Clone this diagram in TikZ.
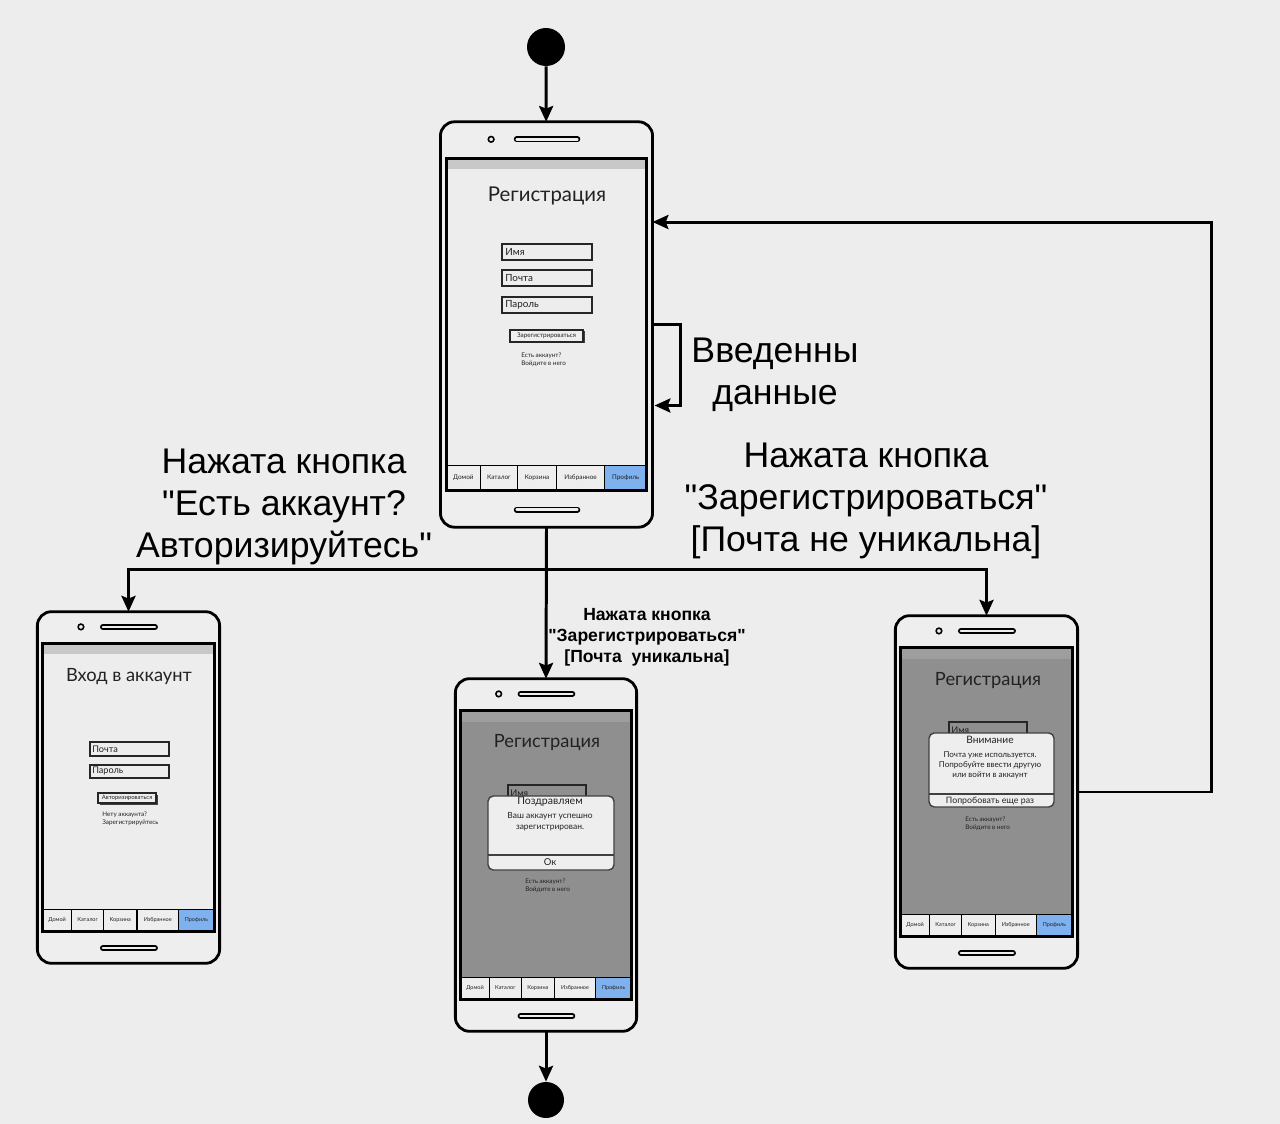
\documentclass[tikz,border=0pt]{standalone}
\usepackage{fontspec}
\setmainfont{Liberation Sans}
\newfontfamily\uifont{Lato}
\usetikzlibrary{arrows.meta}

\definecolor{bgcol}{HTML}{EDEDED}
\definecolor{phonebg}{HTML}{EEEEEE}
\definecolor{screenlight}{HTML}{EDEDED}
\definecolor{screendim}{HTML}{8F8F8F}
\definecolor{statuslight}{HTML}{C8C8C8}
\definecolor{statusdim}{HTML}{9E9E9E}
\definecolor{tabblue}{HTML}{7EB1EE}
\definecolor{uitext}{HTML}{222222}

\tikzset{
  phone/.style={draw, line width=1.6pt, rounded corners=8pt, fill=phonebg, inner sep=0pt, outer sep=0pt},
  flow/.style={line width=1.7pt, -{Stealth[length=9pt,width=8pt,inset=1.5pt]}},
  dot/.style={circle, fill=black, inner sep=0pt, minimum size=#1},
  biglabel/.style={align=center, font=\fontsize{20.3}{23.8}\selectfont},
  smalllabel/.style={align=center, font=\bfseries\fontsize{10}{11.9}\selectfont},
  tabcell/.style={draw, line width=0.7pt, fill=phonebg},
  speakerout/.style={line width=3.3pt, line cap=round},
  speakerin/.style={line width=1.5pt, line cap=round, draw=phonebg},
  uititle/.style={text=uitext, font=\uifont\fontsize{#1}{#1}\selectfont},
  uitext/.style={text=uitext, inner sep=0pt, font=\uifont\fontsize{#1}{#1}\selectfont},
  tabtext/.style={uitext=#1, text height=0.72*#1 pt, text depth=0.22*#1 pt},
  tinytext/.style={text=uitext, inner sep=0pt, align=left, font=\uifont\fontsize{3.6}{4.6}\selectfont},
  field/.style={draw=black!85, line width=0.8pt},
  dialog/.style={draw=black!75, line width=0.8pt, fill=phonebg, rounded corners=3pt},
}

% straight quotes
\newcommand{\qt}{\textquotedbl}

% phone body: name, left, top, right, bottom, screen colour, status bar colour
\newcommand{\phoneframe}[7]{%
  \pgfmathsetmacro{\phW}{#4-#2}
  \pgfmathsetmacro{\phH}{#5-#3}
  \pgfmathsetmacro{\scL}{#2+0.03*\phW}
  \pgfmathsetmacro{\scR}{#4-0.03*\phW}
  \pgfmathsetmacro{\scT}{#3+0.092*\phH}
  \pgfmathsetmacro{\scB}{#5-0.092*\phH}
  \pgfmathsetmacro{\tabT}{\scB-0.062*\phH}
  \pgfmathsetmacro{\camY}{#3+0.045*\phH}
  \pgfmathsetmacro{\spkY}{#5-0.045*\phH}
  \pgfmathsetmacro{\tabfs}{\phW*0.0172}
  \node[phone, minimum width=\phW*0.5669pt, minimum height=\phH*0.5669pt] (#1) at ({(#2+#4)/2},{(#3+#5)/2}) {};
  \fill[#6] (\scL,\scT) rectangle (\scR,\tabT);
  \fill[#7] (\scL,\scT) rectangle (\scR,\scT+11);
  % tab bar
  \foreach \a/\b/\lab in {0/0.17/Домой, 0.17/0.355/Каталог, 0.355/0.55/Корзина, 0.55/0.79/Избранное} {
    \draw[tabcell] ({\scL+\a*(\scR-\scL)},\tabT) rectangle ({\scL+\b*(\scR-\scL)},\scB);
    \node[tabtext=\tabfs] at ({\scL+(\a+\b)/2*(\scR-\scL)},{(\tabT+\scB)/2}) {\lab};
  }
  \draw[tabcell, fill=tabblue] ({\scL+0.79*(\scR-\scL)},\tabT) rectangle (\scR,\scB);
  \node[tabtext=\tabfs] at ({\scL+0.895*(\scR-\scL)},{(\tabT+\scB)/2}) {Профиль};
  \draw[line width=1.6pt] (\scL,\scT) rectangle (\scR,\scB);
  % camera and speakers
  \draw[line width=0.9pt] ({#2+0.24*\phW},\camY) circle (1.6pt);
  \draw[speakerout] ({#2+0.36*\phW},\camY) -- ({#2+0.645*\phW},\camY);
  \draw[speakerin] ({#2+0.36*\phW},\camY) -- ({#2+0.645*\phW},\camY);
  \draw[speakerout] ({#2+0.36*\phW},\spkY) -- ({#2+0.645*\phW},\spkY);
  \draw[speakerin] ({#2+0.36*\phW},\spkY) -- ({#2+0.645*\phW},\spkY);
}

\begin{document}
\begin{tikzpicture}[x=0.02cm, y=-0.02cm]
\path[use as bounding box, fill=bgcol] (0,0) rectangle (1280,1124);

% Phones
\phoneframe{reg}{440}{121}{653}{528}{screenlight}{statuslight}
\phoneframe{login}{37}{611}{220}{964}{screenlight}{statuslight}
\phoneframe{done}{455}{678}{637}{1032}{screendim}{statusdim}
\phoneframe{busy}{895}{615}{1078}{969}{screendim}{statusdim}

% Registration screen
\node[uititle=11.6] (regtitle) at (547,196) {Регистрация};
\draw[field] (502,244) rectangle (592,260);
\node[uitext=5.6, anchor=west] (regname) at (505,252) {Имя};
\draw[field] (502,270) rectangle (592,286);
\node[uitext=5.6, anchor=west] (regmail) at (505,278) {Почта};
\draw[field] (502,297) rectangle (592,313);
\node[uitext=5.6, anchor=west] (regpass) at (505,305) {Пароль};
\fill[black!75] (511.5,331.5) rectangle (584.5,343.5);
\draw[field, fill=phonebg] (510,330) rectangle (583,342);
\node[uitext=3.6] (regbtn) at (546.5,336) {Зарегистрироваться};
\node[tinytext, anchor=west] (reglink) at (521,360) {Есть аккаунт?\\Войдите в него};

% Login screen
\node[uititle=10.4] (logintitle) at (129,677) {Вход в аккаунт};
\draw[field] (90,742) rectangle (169,756);
\node[uitext=5.2, anchor=west] (loginmail) at (92,749) {Почта};
\draw[field] (90,765) rectangle (169,778);
\node[uitext=5.2, anchor=west] (loginpass) at (92,771.5) {Пароль};
\fill[black!75] (99.5,794.5) rectangle (157.5,804.5);
\draw[field, fill=phonebg] (98,793) rectangle (156,803);
\node[uitext=3.4] (loginbtn) at (127,798) {Авторизироваться};
\node[tinytext, anchor=west] (loginlink) at (102,818.5) {Нету аккаунта?\\Зарегистрируйтесь};

% Success screen
\node[uititle=10.4] (donetitle) at (547,743) {Регистрация};
\draw[field] (508,785) rectangle (586,800);
\node[uitext=5.2, anchor=west] (donename) at (510,793) {Имя};
\draw[dialog] (488,796) rectangle (614,870);
\draw[black!75, line width=0.6pt] (488,855) -- (614,855);
\node[uitext=6] (donehead) at (550,801.5) {Поздравляем};
\node[uitext=4.8, align=center] (donebody) at (550,822) {Ваш аккаунт успешно\\[1.5pt]зарегистрирован.};
\node[uitext=5.4] (doneok) at (550,862.5) {Ок};
\node[tinytext, anchor=west] (donelink) at (525,885.5) {Есть аккаунт?\\Войдите в него};

% Error screen
\node[uititle=10.4] (busytitle) at (988,681) {Регистрация};
\draw[field] (949,722) rectangle (1027,737);
\node[uitext=5.2, anchor=west] (busyname) at (951,730) {Имя};
\draw[dialog] (929,733) rectangle (1054,807);
\draw[black!75, line width=0.6pt] (929,794) -- (1054,794);
\node[uitext=5.8] (busyhead) at (990,739.5) {Внимание};
\node[uitext=4.6, align=center] (busybody) at (990,765) {Почта уже используется.\\[1.2pt]Попробуйте ввести другую\\[1.2pt]или войти в аккаунт};
\node[uitext=5] (busyretry) at (990,801) {Попробовать еще раз};
\node[tinytext, anchor=west] (busylink) at (965,823.5) {Есть аккаунт?\\Войдите в него};

% Start and end
\node[dot=0.76cm] (start) at (546,47) {};
\node[dot=0.72cm] (finish) at (546,1100) {};

% Labels
\node[biglabel] (labauth) at (284,507) {Нажата кнопка\\\qt Есть аккаунт?\\Авторизируйтесь\qt};
\node[biglabel] (labtaken) at (866,501) {Нажата кнопка\\\qt Зарегистрироваться\qt\\{[}Почта не уникальна{]}};
\node[biglabel] (labinput) at (775,375) {Введенны\\данные};
\node[smalllabel] (labfree) at (647,637) {Нажата кнопка\\\qt Зарегистрироваться\qt\\{[}Почта\ \ уникальна{]}};

% Arrows
\coordinate (split) at ([yshift=-0.84cm]reg.south);
\draw[flow] (start) -- (reg);
\draw[flow] (reg.east) -- ++(28,0) -- ++(0,81) -- ++(-26,0);
\draw[flow] (reg.south) -- (done.north);
\draw[flow] (split) -| (login.north);
\draw[flow] (split) -| (busy.north);
\draw[flow] (busy.east) -- ++(134,0) |- ([yshift=2.05cm]reg.east);
\draw[flow] (done.south) -- (finish);

\end{tikzpicture}
\end{document}
